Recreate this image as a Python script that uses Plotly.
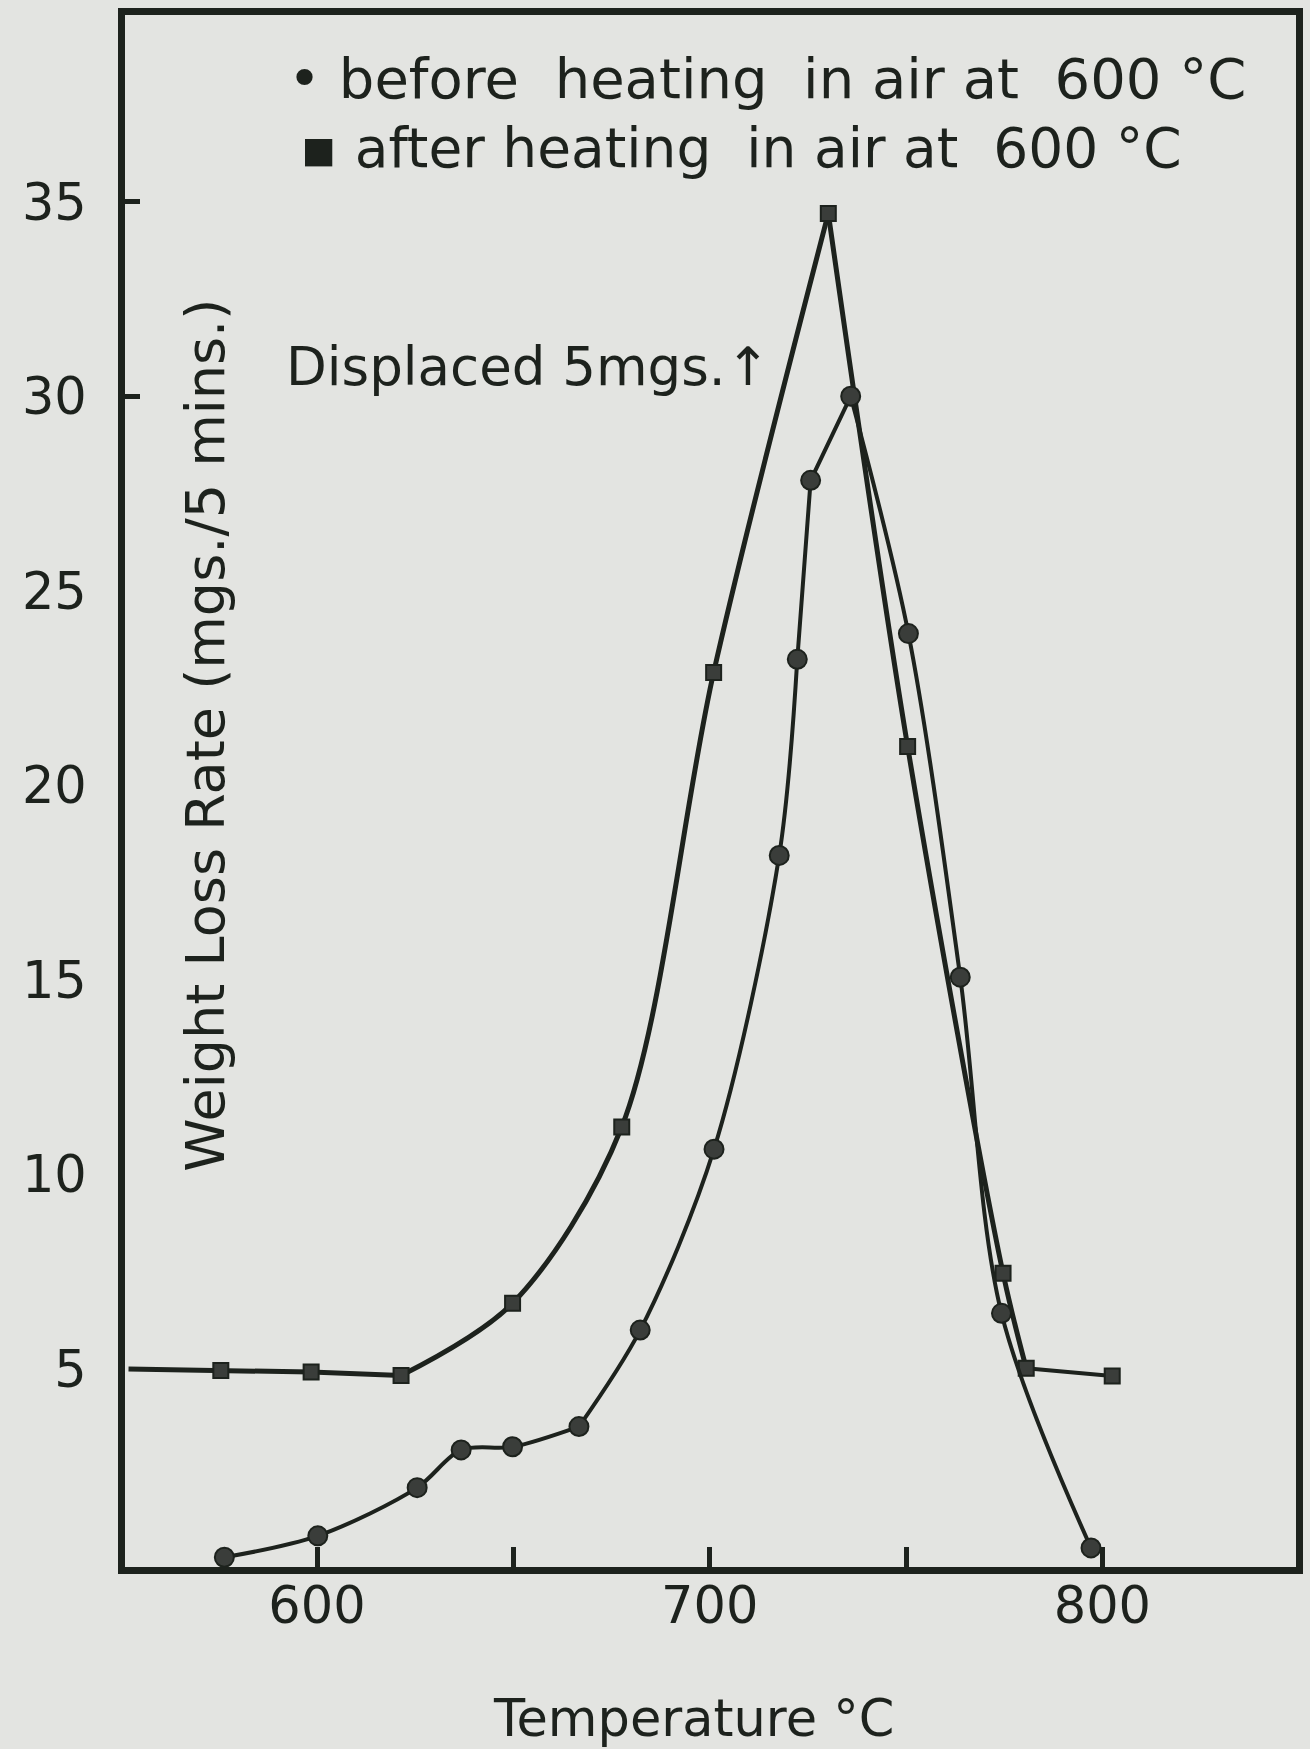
import plotly.graph_objects as go

# Data
before_temp = [576.4, 600.2, 625.5, 636.7, 649.8, 666.7, 682.3, 701.1, 717.7, 722.3, 725.7, 735.9, 750.6, 763.8, 774.3, 797.1]
before_rate = [0.16, 0.71, 1.95, 2.92, 3.0, 3.52, 6.0, 10.65, 18.2, 23.24, 27.84, 30.0, 23.9, 15.07, 6.43, 0.4]

after_temp = [575.5, 598.5, 621.4, 649.8, 677.6, 701.0, 730.2, 750.4, 774.7, 780.6, 802.5]
after_rate = [4.96, 4.92, 4.83, 6.69, 11.22, 22.9, 34.7, 21.0, 7.46, 5.02, 4.82]
after_line_start_temp = [552.0]
after_line_start_rate = [5.0]

y_tickvals = [5, 10, 15, 20, 25, 30, 35]
y_ticktext = ["5", "10", "15", "20", "25", "30", "35"]
y_marked_ticks = [30, 35]
x_tickvals = [600, 650, 700, 750, 800]
x_ticktext = ["600", "", "700", "", "800"]

x_range = [551.1, 849.3]
y_range = [-0.09, 39.8]

INK = "#1d221d"
MARK = "#3a3d3a"
BG = "#e3e4e1"
FONT = "DejaVu Sans"

fig = go.Figure()


def add_curve(xs, ys, width, shape="spline", smoothing=0.9):
    fig.add_trace(go.Scatter(
        x=xs, y=ys, mode="lines",
        line=dict(color=INK, width=width, shape=shape, smoothing=smoothing),
        hoverinfo="skip", showlegend=False))


# "after heating" curve, drawn piecewise (sharp corners at 621 and at the peak)
ax = after_line_start_temp + after_temp
ay = after_line_start_rate + after_rate
add_curve(ax[0:4], ay[0:4], 5, "linear")
add_curve(ax[3:8], ay[3:8], 5)
add_curve(ax[7:11], ay[7:11], 5)
add_curve(ax[10:12], ay[10:12], 4)

fig.add_trace(go.Scatter(
    x=after_temp, y=after_rate, mode="markers",
    marker=dict(symbol="square", size=15, color=MARK, line=dict(color=INK, width=2)),
    showlegend=False))

# "before heating" curve, piecewise
add_curve(before_temp[0:6], before_rate[0:6], 4)
add_curve(before_temp[5:10], before_rate[5:10], 4)
add_curve(before_temp[9:12], before_rate[9:12], 4, "linear")
add_curve(before_temp[11:16], before_rate[11:16], 4)

fig.add_trace(go.Scatter(
    x=before_temp, y=before_rate, mode="markers",
    marker=dict(symbol="circle", size=19, color=MARK, line=dict(color=INK, width=2)),
    showlegend=False))

# invisible trace to activate yaxis2 (tick marks at 30 and 35)
fig.add_trace(go.Scatter(x=[None], y=[None], yaxis="y2", showlegend=False))

fig.update_layout(
    width=1310, height=1749,
    margin=dict(l=125, r=7, t=15, b=182),
    paper_bgcolor=BG, plot_bgcolor=BG,
    font=dict(family=FONT, color=INK),
    xaxis=dict(range=x_range, showgrid=False, zeroline=False,
               showline=True, mirror=True, linecolor=INK, linewidth=7,
               tickmode="array", tickvals=x_tickvals, ticktext=x_ticktext,
               ticks="inside", ticklen=20, tickwidth=5, tickcolor=INK,
               tickfont=dict(size=51, family=FONT, color=INK),
               ticklabelstandoff=-12),
    yaxis=dict(range=y_range, showgrid=False, zeroline=False,
               showline=True, mirror=True, linecolor=INK, linewidth=7,
               tickmode="array", tickvals=y_tickvals, ticktext=y_ticktext,
               ticks="", tickfont=dict(size=51, family=FONT, color=INK),
               ticklabelstandoff=21),
    yaxis2=dict(range=y_range, overlaying="y", side="left", showgrid=False,
                zeroline=False, showline=False, tickmode="array",
                tickvals=y_marked_ticks, ticks="inside", ticklen=15, tickwidth=5,
                tickcolor=INK, showticklabels=False),
)

fig.add_annotation(text="• before  heating  in air at  600 °C", xref="paper", yref="paper",
                   x=0.1375, y=0.9594, xanchor="left", yanchor="middle", showarrow=False,
                   font=dict(size=56, family=FONT, color=INK))
fig.add_annotation(text="▪ after heating  in air at  600 °C", xref="paper", yref="paper",
                   x=0.1477, y=0.9143, xanchor="left", yanchor="middle", showarrow=False,
                   font=dict(size=55, family=FONT, color=INK))
fig.add_annotation(text="Displaced 5mgs.↑", xref="paper", yref="paper",
                   x=0.1358, y=0.7738, xanchor="left", yanchor="middle", showarrow=False,
                   font=dict(size=53, family=FONT, color=INK))
fig.add_annotation(text="Weight Loss Rate (mgs./5 mins.)", xref="paper", yref="paper",
                   x=0.0688, y=0.536, xanchor="center", yanchor="middle", textangle=-90,
                   showarrow=False, font=dict(size=54, family=FONT, color=INK))
fig.add_annotation(text="Temperature °C", xref="paper", yref="paper",
                   x=0.4856, y=-0.0973, xanchor="center", yanchor="middle", showarrow=False,
                   font=dict(size=51, family=FONT, color=INK))

fig.write_html("out.html")
